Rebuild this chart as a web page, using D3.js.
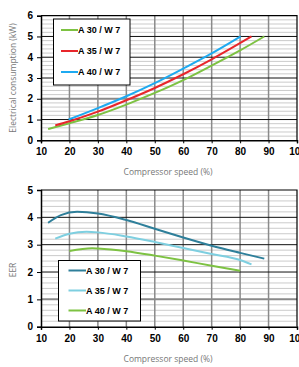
<!DOCTYPE html>
<html lang="en">
<head>
  <meta charset="UTF-8" />
  <title>Compressor speed charts</title>
  <script src="https://d3js.org/d3.v7.min.js"></script>
  <style>
    body { margin: 0; background: #fff; }
    svg { display: block; }
    .tick text { font-family: 'Liberation Sans', Arial, sans-serif; font-weight: bold; font-size: 10px; fill: #000; }
    .title { font-family: 'Open Sans', 'Noto Sans', sans-serif; font-size: 8.5px; fill: #777; }
    .leg { font-family: 'Liberation Sans', Arial, sans-serif; font-weight: bold; font-size: 9px; fill: #000; }
  </style>
</head>
<body>
<svg id="chart" width="299" height="367"></svg>
<script>
  // x ticks (compressor speed %)
  const speedTicks = [10, 20, 30, 40, 50, 60, 70, 80, 90, 100];

  // electrical consumption (kW)
  const powerNames = ["A 30 / W 7", "A 35 / W 7", "A 40 / W 7"];
  const powerColors = ["#7dc242", "#e8262b", "#1eaaf1"];
  const powerA30 = [[12.5, 0.54], [20, 0.82], [30, 1.22], [40, 1.72], [50, 2.28], [60, 2.9], [70, 3.6], [80, 4.33], [88.5, 5.0]];
  const powerA35 = [[15, 0.72], [20, 0.92], [30, 1.38], [40, 1.93], [50, 2.52], [60, 3.18], [70, 3.9], [84, 5.0]];
  const powerA40 = [[19.7, 1.0], [30, 1.55], [40, 2.12], [50, 2.75], [60, 3.45], [70, 4.18], [80.2, 5.0]];
  const powerTicks = [0, 1, 2, 3, 4, 5, 6];

  // EER
  const eerNames = ["A 30 / W 7", "A 35 / W 7", "A 40 / W 7"];
  const eerColors = ["#2e7f9a", "#7ecfe0", "#7dc242"];
  const eerA30 = [[12.5, 3.8], [17, 4.08], [22.7, 4.2], [30, 4.14], [40, 3.9], [50, 3.58], [60, 3.26], [70, 2.96], [80, 2.7], [88.5, 2.49]];
  const eerA35 = [[15, 3.22], [20, 3.4], [26, 3.47], [30, 3.45], [40, 3.3], [50, 3.1], [60, 2.88], [70, 2.66], [80, 2.44], [84, 2.28]];
  const eerA40 = [[20, 2.77], [28, 2.87], [30, 2.86], [40, 2.76], [50, 2.6], [60, 2.42], [70, 2.23], [80, 2.05]];
  const eerTicks = [0, 1, 2, 3, 4, 5];

  const svg = d3.select("#chart");
  const left = 41, right = 297;

  function panel(cfg) {
    const x = d3.scaleLinear().domain([10, 100]).range([left, right]);
    const y = d3.scaleLinear().domain([0, cfg.max]).range([cfg.bottom, cfg.top]);
    const g = svg.append("g");

    g.append("rect").attr("x", left).attr("y", cfg.top)
      .attr("width", right - left).attr("height", cfg.bottom - cfg.top).attr("fill", "#fff");

    // minor horizontal grid
    const minor = d3.range(0, cfg.max + 0.001, 0.2).filter(v => Math.abs(v - Math.round(v)) > 0.01);
    g.selectAll(".minor").data(minor).join("line")
      .attr("x1", left).attr("x2", right)
      .attr("y1", d => y(d)).attr("y2", d => y(d))
      .attr("stroke", "#cbcbcb").attr("stroke-width", 1);

    // vertical grid
    g.selectAll(".vg").data(speedTicks.slice(1, -1)).join("line")
      .attr("x1", d => x(d)).attr("x2", d => x(d))
      .attr("y1", cfg.top).attr("y2", cfg.bottom)
      .attr("stroke", "#8a8a8a").attr("stroke-width", 1.5);

    // major horizontal grid
    g.selectAll(".hg").data(cfg.ticks.slice(1, -1)).join("line")
      .attr("x1", left).attr("x2", right)
      .attr("y1", d => y(d)).attr("y2", d => y(d))
      .attr("stroke", d => d === cfg.grey ? "#8a8a8a" : "#111")
      .attr("stroke-width", d => d === cfg.grey ? 2 : 1);

    // frame top/right
    g.append("path")
      .attr("d", `M${left},${cfg.top}H${right}V${cfg.bottom}`)
      .attr("fill", "none").attr("stroke", "#000").attr("stroke-width", 1.2);

    const xa = g.append("g").attr("transform", `translate(0,${cfg.bottom})`)
      .call(d3.axisBottom(x).tickValues(speedTicks).tickSize(3).tickPadding(5).tickFormat(d3.format("d")));
    xa.select(".domain").attr("stroke-width", 1.5);
    const ya = g.append("g").attr("transform", `translate(${left},0)`)
      .call(d3.axisLeft(y).tickValues(cfg.ticks).tickSize(4).tickPadding(4).tickFormat(d3.format("d")));
    ya.select(".domain").attr("stroke-width", 1.5);

    g.append("text").attr("class", "title")
      .attr("x", (left + right) / 2 - 1).attr("y", cfg.bottom + 35)
      .attr("text-anchor", "middle").text("Compressor speed (%)");
    g.append("text").attr("class", "title")
      .attr("transform", `translate(16,${cfg.ytitleY}) rotate(-90)`)
      .attr("text-anchor", "middle").text(cfg.ytitle);

    const line = d3.line().x(d => x(d[0])).y(d => y(d[1])).curve(d3.curveMonotoneX);
    cfg.series.forEach((s, i) => {
      g.append("path").datum(s).attr("d", line)
        .attr("fill", "none").attr("stroke", cfg.colors[i]).attr("stroke-width", 2);
    });

    // legend
    const L = cfg.legend;
    const lg = g.append("g");
    lg.append("rect").attr("x", L.x).attr("y", L.y).attr("width", L.w).attr("height", L.h)
      .attr("fill", "#fff").attr("stroke", "#000").attr("stroke-width", 1);
    cfg.names.forEach((n, i) => {
      const yy = L.y + L.first + i * L.step;
      lg.append("line").attr("x1", L.x + L.lx).attr("x2", L.x + L.lx + L.lw)
        .attr("y1", yy).attr("y2", yy)
        .attr("stroke", cfg.colors[i]).attr("stroke-width", 2);
      lg.append("text").attr("class", "leg")
        .attr("x", L.x + L.lx + L.lw).attr("y", yy + 3.3).text(n);
    });
  }

  panel({
    top: 15.7, bottom: 140.3, max: 6, ticks: powerTicks, grey: 2,
    series: [powerA30, powerA35, powerA40], colors: powerColors, names: powerNames,
    ytitle: "Electrical consumption (kW)", ytitleY: 78,
    legend: { x: 53.5, y: 19, w: 76.5, h: 66, first: 11, step: 21, lx: 7.5, lw: 17 }
  });

  panel({
    top: 190, bottom: 326.7, max: 5, ticks: eerTicks, grey: 1,
    series: [eerA30, eerA35, eerA40], colors: eerColors, names: eerNames,
    ytitle: "EER", ytitleY: 270,
    legend: { x: 58.5, y: 260.5, w: 82, h: 60.5, first: 10, step: 20, lx: 10, lw: 17.5 }
  });
</script>
</body>
</html>
